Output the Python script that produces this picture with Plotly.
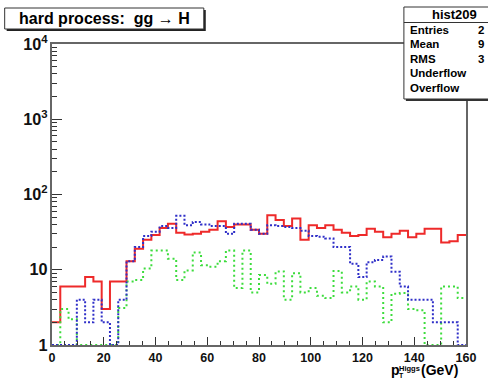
import plotly.graph_objects as go

# ---------------- data ----------------
n_bins = 50
bin_width = 3.2
bin_edges = [round(bin_width * i, 1) for i in range(n_bins + 1)]

red_vals = [2, 6, 6, 6, 8, 7, 3, 7, 7, 13,
            19, 25, 29, 36, 41, 31, 29.5, 30, 32, 34,
            44, 37, 40, 40, 34, 30, 53, 46, 38, 48,
            25, 39, 36, 39, 34, 31, 28, 29, 35, 32,
            27, 30, 33, 27, 30, 35, 35, 23, 24, 29]

blue_vals = [1, 1, 1, 4, 2, 4, 2, 1, 4, 13,
             20, 28, 32, 38, 36, 52, 39, 43, 40, 38,
             38, 30, 41, 41, 34, 30, 39, 38, 37, 36,
             33, 28, 27.5, 26, 20, 20, 12, 8, 12.6, 13.5,
             15, 9.4, 6, 4, 4, 4, 2, 2, 2, 1]

green_vals = [1, 3, 2.2, 1, 1, 1, 1, 1, 3.1, 7,
              7.3, 10.4, 18, 18, 14, 7.3, 9.8, 17, 11.5, 11,
              13, 18, 5.7, 18, 5, 8.5, 6.5, 9.5, 4, 9,
              5, 5.7, 4.5, 4.2, 9.6, 5, 6, 4, 7, 6,
              2, 4.8, 4.9, 3, 2.9, 1, 1, 6, 6, 4.2]

title_text = "hard process:  gg \u2192 H"
stats_title = "hist209"
stats_labels = ["Entries", "Mean", "RMS", "Underflow", "Overflow"]
stats_values = ["2", "9", "3", "", ""]
x_ticks = [0, 20, 40, 60, 80, 100, 120, 140, 160]

# ---------------- layout geometry (pixels) ----------------
W, H = 488, 379
L, R, T, B = 52, 472, 44, 345


def px(x):
    return (x - L) / (R - L)


def py(y):
    return (B - y) / (B - T)


FONT = "Liberation Sans, Arial, Helvetica, sans-serif"

fig = go.Figure()


def step_trace(vals, color, dash):
    xs = bin_edges
    ys = list(vals) + [vals[-1]]
    return go.Scatter(x=xs, y=ys, mode="lines",
                      line=dict(shape="hv", color=color, width=2, dash=dash),
                      hoverinfo="skip", showlegend=False, cliponaxis=True)


fig.add_trace(step_trace(red_vals, "#ee2a2a", "solid"))
fig.add_trace(step_trace(green_vals, "#3ddc3d", "2px,3px"))
fig.add_trace(step_trace(blue_vals, "#2f2fc8", "2px,2px"))

fig.update_layout(
    width=W, height=H,
    margin=dict(l=L, r=W - R, t=T, b=H - B, pad=0),
    paper_bgcolor="white", plot_bgcolor="white",
    font=dict(family=FONT, color="black"),
    xaxis=dict(range=[0, 160], showgrid=False, zeroline=False,
               showline=True, linecolor="#666", linewidth=1.5, mirror=True,
               ticks="inside", ticklen=8, tickcolor="#333", tickwidth=1,
               tickvals=x_ticks, ticklabelstandoff=0,
               tickfont=dict(family=FONT, size=12.5, weight="bold", color="#111"),
               minor=dict(ticks="inside", ticklen=4, dtick=5, tickcolor="#333", showgrid=False)),
    yaxis=dict(type="log", range=[0, 4], showgrid=False, zeroline=False,
               showline=True, linecolor="#666", linewidth=1.5, mirror=True,
               ticks="inside", ticklen=10, tickcolor="#333", tickwidth=1,
               dtick=1, exponentformat="power",
               tickfont=dict(family=FONT, size=13, weight="bold", color="#111"),
               minor=dict(ticks="inside", ticklen=5, dtick="D1", tickcolor="#333", showgrid=False)),
)

shapes = []
annotations = []

# title box with shadow
shapes.append(dict(type="rect", xref="paper", yref="paper",
                   x0=px(6), x1=px(208), y0=py(31), y1=py(10),
                   fillcolor="#222", line=dict(width=0), layer="above"))
shapes.append(dict(type="rect", xref="paper", yref="paper",
                   x0=px(4), x1=px(206), y0=py(29), y1=py(8),
                   fillcolor="white", line=dict(color="#333", width=1), layer="above"))
annotations.append(dict(xref="paper", yref="paper", x=px(105), y=py(18.5),
                        text=title_text, showarrow=False, xanchor="center", yanchor="middle",
                        font=dict(family=FONT, size=16, weight="bold", color="black")))

# stats box with shadow
shapes.append(dict(type="rect", xref="paper", yref="paper",
                   x0=px(411), x1=px(500), y0=py(101), y1=py(9),
                   fillcolor="#333", line=dict(width=0), layer="above"))
shapes.append(dict(type="rect", xref="paper", yref="paper",
                   x0=px(409), x1=px(498), y0=py(99), y1=py(7),
                   fillcolor="white", line=dict(color="#333", width=1), layer="above"))
shapes.append(dict(type="line", xref="paper", yref="paper",
                   x0=px(409), x1=px(498), y0=py(22.5), y1=py(22.5),
                   line=dict(color="#333", width=1), layer="above"))
annotations.append(dict(xref="paper", yref="paper", x=px(460), y=py(15),
                        text=stats_title, showarrow=False, xanchor="center", yanchor="middle",
                        font=dict(family=FONT, size=13, weight="bold", color="black")))
row_y = [30.5, 44.5, 58.5, 73, 88]
for lab, val, yy in zip(stats_labels, stats_values, row_y):
    annotations.append(dict(xref="paper", yref="paper", x=px(413), y=py(yy),
                            text=lab, showarrow=False, xanchor="left", yanchor="middle",
                            font=dict(family=FONT, size=11.5, weight="bold", color="black")))
    if val:
        annotations.append(dict(xref="paper", yref="paper", x=px(482), y=py(yy),
                                text=val, showarrow=False, xanchor="left", yanchor="middle",
                                font=dict(family=FONT, size=11.5, weight="bold", color="black")))

# x-axis title  p_T^Higgs (GeV)
annotations.append(dict(xref="paper", yref="paper", x=px(394), y=py(369.5),
                        text="p", showarrow=False, xanchor="left", yanchor="middle",
                        font=dict(family=FONT, size=14, weight="bold", color="black")))
annotations.append(dict(xref="paper", yref="paper", x=px(402), y=py(375),
                        text="T", showarrow=False, xanchor="left", yanchor="middle",
                        font=dict(family=FONT, size=7, weight="bold", color="black")))
annotations.append(dict(xref="paper", yref="paper", x=px(402), y=py(368.5),
                        text="Higgs", showarrow=False, xanchor="left", yanchor="middle",
                        font=dict(family=FONT, size=7.5, weight="bold", color="black")))
annotations.append(dict(xref="paper", yref="paper", x=px(424), y=py(369.5),
                        text="(GeV)", showarrow=False, xanchor="left", yanchor="middle",
                        font=dict(family=FONT, size=14, weight="bold", color="black")))

fig.update_layout(shapes=shapes, annotations=annotations)

fig.write_html("out.html")
